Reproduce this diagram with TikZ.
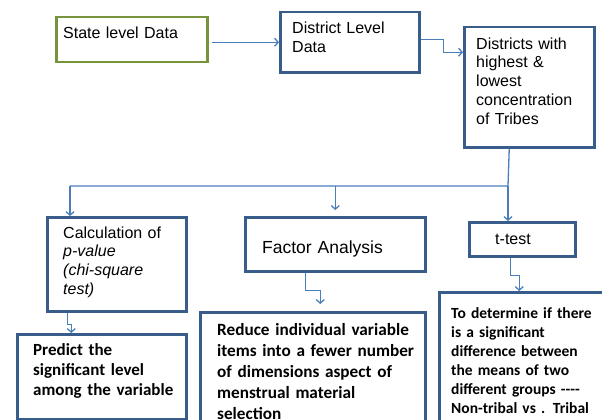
\documentclass[tikz,border=0pt]{standalone}
\usepackage{fontspec}
\setmainfont{Liberation Sans}
\newfontfamily\calfont{Carlito}
\usetikzlibrary{arrows.meta}
\definecolor{boxblue}{HTML}{385D8A}
\definecolor{linkblue}{HTML}{4A7EBB}
\definecolor{boxgreen}{HTML}{77933C}
\begin{document}
\begin{tikzpicture}[x=1pt,y=-1pt,
  box/.style={draw=boxblue, line width=2.5pt, rectangle, inner sep=0pt, anchor=north west},
  greenbox/.style={box, draw=boxgreen},
  txt/.style={inner sep=0pt, anchor=base west, align=left, text width=220pt, font=\fontsize{16}{19}\selectfont},
  btxt/.style={inner sep=0pt, anchor=base west, align=left, text width=240pt, font=\calfont\bfseries\fontsize{17}{20.5}\selectfont},
  arr/.style={draw=linkblue, line width=1.3pt, -{Straight Barb[length=3.5pt,width=8pt]}},
  link/.style={draw=linkblue, line width=1.3pt},
]
\useasboundingbox (0,0) rectangle (602,420);
% boxes
\node[greenbox, minimum width=151pt, minimum height=45pt] (b1) at (55,16) {};
\node[box, minimum width=139pt, minimum height=60pt] (b2) at (279,11) {};
\node[box, minimum width=130pt, minimum height=120pt] (b3) at (463,26) {};
\node[box, minimum width=139pt, minimum height=94pt] (b4) at (46,216) {};
\node[box, minimum width=180pt, minimum height=54pt] (b5) at (244,216) {};
\node[box, minimum width=106pt, minimum height=34pt] (b6) at (468,221) {};
\node[box, minimum width=169pt, minimum height=85pt] (b7) at (16,333) {};
\node[box, minimum width=225pt, minimum height=120pt] (b8) at (199,311) {};
\node[box, minimum width=180pt, minimum height=140pt] (b9) at (438,291) {};
% texts
\node[txt] (t1) at (63,39) {State level Data};
\node[txt] (t2) at (292,34) {District Level\\Data};
\node[txt, font=\fontsize{16}{18.8}\selectfont] (t3) at (476,49) {Districts with\\highest \&\\lowest\\concentration\\of Tribes};
\node[txt, font=\fontsize{16}{18.7}\selectfont] (t4) at (63,238) {Calculation of\\\textit{p-value}\\\textit{(chi-square}\\\textit{test)}};
\node[txt, font=\fontsize{17.5}{21}\selectfont] (t5) at (262,253) {Factor Analysis};
\node[inner sep=0pt, anchor=base, font=\fontsize{16}{19}\selectfont] (t6) at (513,244) {t-test};
\node[btxt, font=\calfont\bfseries\fontsize{17}{20}\selectfont] (t7) at (33,355) {Predict the\\significant level\\among the variable};
\node[btxt, font=\calfont\bfseries\fontsize{17.2}{21}\selectfont] (t8) at (217,335) {Reduce individual variable\\items into a fewer number\\of dimensions aspect of\\menstrual material\\selection};
\node[btxt, font=\calfont\bfseries\fontsize{15.5}{19.1}\selectfont] (t9) at (451,318) {To determine if there\\is a significant\\difference between\\the means of two\\different groups ----\\Non-tribal vs . Tribal};
% connectors
\draw[arr, shorten <=3pt] (b1.east |- b2.west) -- (b2.west);
\draw[arr] ([yshift=3pt]b2.east) -- ++(23,0) |- ([yshift=35pt]b3.west);
\coordinate (bus) at (70,186);
\coordinate (busR) at (508,186);
\draw[link] ([xshift=-20pt]b3.south) -- (busR) -- (bus);
\draw[arr] (busR) -- (b6.north -| busR);
\draw[arr] (bus) -- (b4.north -| bus);
\draw[arr] (b5.north |- bus) -- ([yshift=6pt]b5.north);
\draw[arr] ([xshift=-49.5pt]b4.south) -- ++(0,12) -| ([xshift=-30.5pt]b7.north);
\draw[arr] ([xshift=-29.5pt]b5.south) -- ++(0,18) -| ([xshift=7.5pt,yshift=7pt]b8.north);
\draw[arr] ([xshift=-12pt]b6.south) -- ++(0,18) -| ([xshift=-10pt]b9.north);
\end{tikzpicture}
\end{document}
